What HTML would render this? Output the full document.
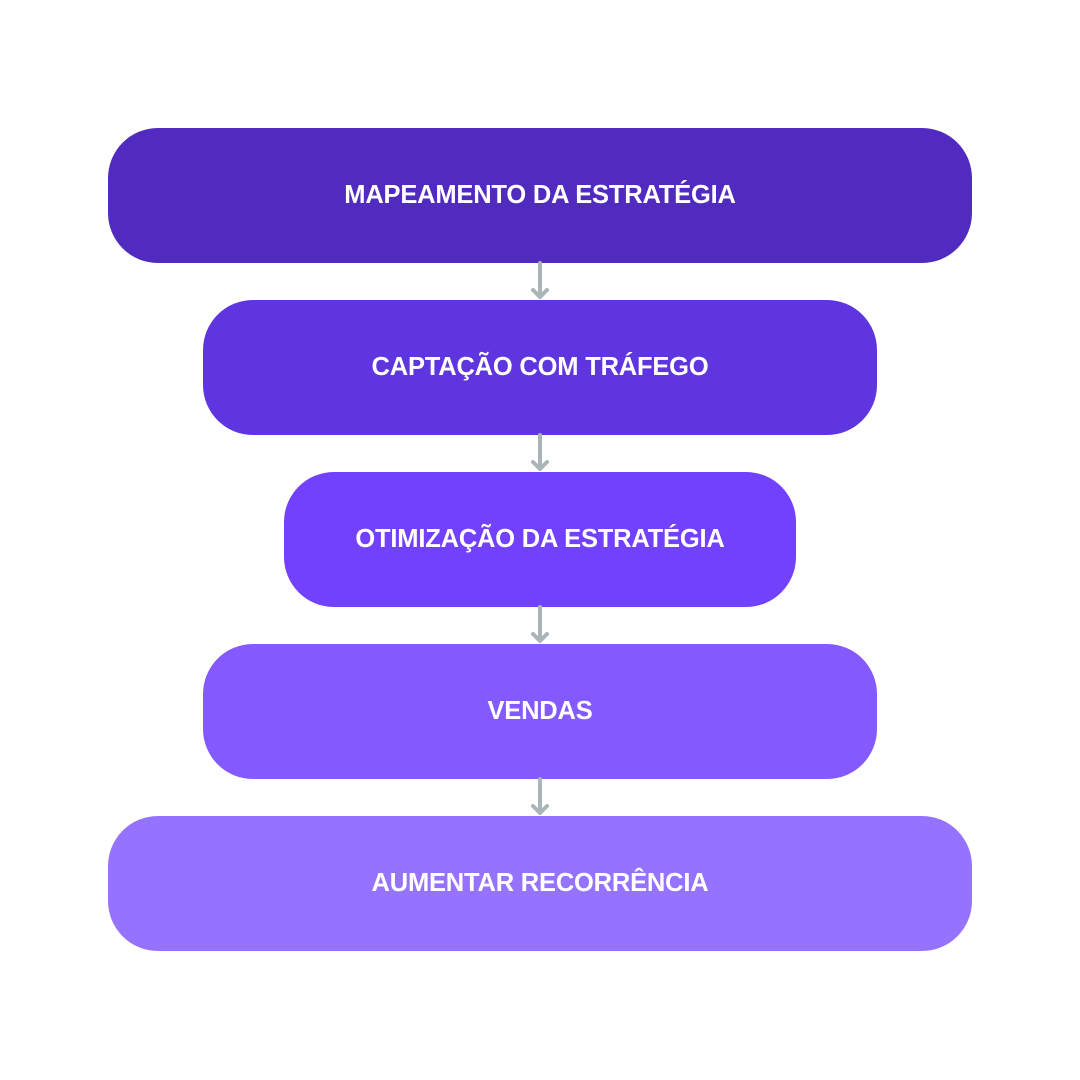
<!DOCTYPE html>
<html><head><meta charset="utf-8"><style>
html,body{margin:0;padding:0;background:#fff;}
body{width:1080px;height:1080px;position:relative;overflow:hidden;font-family:"Liberation Sans",sans-serif;}
.b{position:absolute;height:135px;border-radius:50px;color:#fff;font-weight:bold;font-size:25.5px;display:flex;align-items:center;justify-content:center;letter-spacing:-0.2px;}
svg{position:absolute;left:0;top:0;}
</style></head><body>
<div class="b" style="left:108px;top:128px;width:864px;background:#512BBF;">MAPEAMENTO DA ESTRATÉGIA</div>
<div class="b" style="left:203px;top:300px;width:674px;background:#5E35DE;">CAPTAÇÃO COM TRÁFEGO</div>
<div class="b" style="left:284px;top:472px;width:512px;background:#7241FE;">OTIMIZAÇÃO DA ESTRATÉGIA</div>
<div class="b" style="left:203px;top:644px;width:674px;background:#8459FE;">VENDAS</div>
<div class="b" style="left:108px;top:816px;width:864px;background:#9673FE;">AUMENTAR RECORRÊNCIA</div>
<svg width="1080" height="1080">
<g stroke="#AAB5BA" stroke-width="4" fill="none" stroke-linecap="round" stroke-linejoin="round">
<path d="M540 263V297M533 290L540 297L547 290"/>
<path d="M540 435V469M533 462L540 469L547 462"/>
<path d="M540 607V641M533 634L540 641L547 634"/>
<path d="M540 779V813M533 806L540 813L547 806"/>
</g></svg>
</body></html>
